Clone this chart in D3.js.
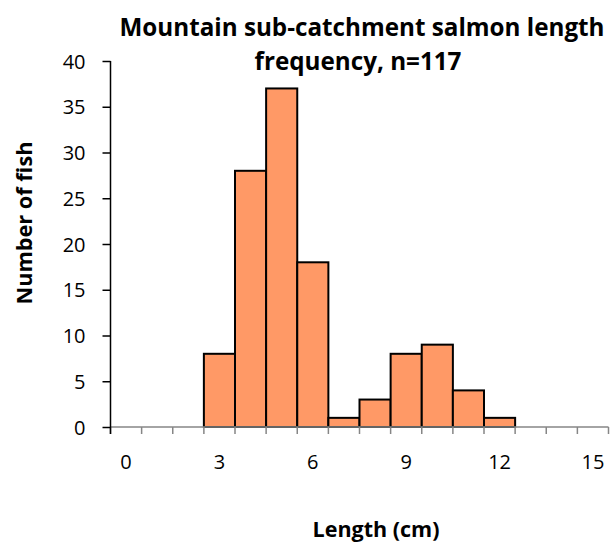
<!DOCTYPE html>
<html>
<head>
<meta charset="utf-8">
<script src="https://cdn.jsdelivr.net/npm/d3@7"></script>
<style>
  html, body { margin: 0; padding: 0; background: #fff; }
  svg { display: block; }
</style>
</head>
<body>
<svg id="chart" width="611" height="542"></svg>
<script>
const categories = ["0","1","2","3","4","5","6","7","8","9","10","11","12","13","14","15"];
const counts = [0,0,0,8,28,37,18,1,3,8,9,4,1,0,0,0];
const xTickLabels = ["0","3","6","9","12","15"];
const yTicks = [0,5,10,15,20,25,30,35,40];
const titleLines = ["Mountain sub-catchment salmon length", "frequency, n=117"];
const xTitle = "Length (cm)";
const yTitle = "Number of fish";

const font = "'Open Sans', Lato, sans-serif";
const svg = d3.select("#chart");
const m = {left: 110.5, right: 608.5, top: 61, bottom: 427};

const x = d3.scaleBand().domain(categories).range([m.left, m.right]).padding(0);
const y = d3.scaleLinear().domain([0, 40]).range([m.bottom, m.top]);

// fit a text element's font size to a target width
function fit(sel, target) {
  const node = sel.node();
  const fs = parseFloat(sel.attr("font-size"));
  const w = node.getComputedTextLength();
  sel.attr("font-size", (fs * target / w).toFixed(2));
}

// bars
svg.append("g").selectAll("rect")
  .data(categories.map((c, i) => ({c, v: counts[i]})).filter(d => d.v > 0))
  .join("rect")
  .attr("x", d => x(d.c))
  .attr("y", d => y(d.v))
  .attr("width", x.bandwidth())
  .attr("height", d => y(0) - y(d.v))
  .attr("fill", "#FF9966")
  .attr("stroke", "#000")
  .attr("stroke-width", 2);

// x axis
const xAxis = svg.append("g").attr("transform", `translate(0,${m.bottom})`);
xAxis.append("line").attr("x1", m.left).attr("x2", m.right)
  .attr("stroke", "#868686").attr("stroke-width", 1.5);
const boundaries = categories.map(c => x(c)).concat([m.right]);
xAxis.selectAll("line.tick").data(boundaries).join("line")
  .attr("class", "tick")
  .attr("x1", d => d).attr("x2", d => d).attr("y1", 0).attr("y2", 7)
  .attr("stroke", "#868686").attr("stroke-width", 1.5);
xAxis.selectAll("text").data(xTickLabels).join("text")
  .attr("x", d => x(d) + x.bandwidth() / 2)
  .attr("y", 42)
  .attr("text-anchor", "middle")
  .attr("font-family", font).attr("font-size", 20)
  .attr("fill", "#000")
  .text(d => d);

// y axis
const yAxis = svg.append("g").attr("transform", `translate(${m.left},0)`)
  .call(d3.axisLeft(y).tickValues(yTicks).tickSize(8).tickPadding(17));
yAxis.select(".domain").remove();
yAxis.append("line").attr("y1", m.top).attr("y2", m.bottom + 7)
  .attr("stroke", "#000").attr("stroke-width", 1.5);
yAxis.selectAll(".tick line").attr("stroke", "#000").attr("stroke-width", 1.5);
yAxis.selectAll(".tick text").attr("font-family", font).attr("font-size", 20)
  .attr("fill", "#000").attr("dy", "0.35em");

// title
const cx = 362;
const t1 = svg.append("text")
  .attr("x", cx).attr("y", 36)
  .attr("text-anchor", "middle")
  .attr("font-family", font).attr("font-weight", "bold").attr("font-size", 22)
  .text(titleLines[0]);
fit(t1, 485);
const t2 = svg.append("text")
  .attr("x", cx - 4).attr("y", 70)
  .attr("text-anchor", "middle")
  .attr("font-family", font).attr("font-weight", "bold")
  .attr("font-size", t1.attr("font-size"))
  .text(titleLines[1]);

// axis titles
const xt = svg.append("text")
  .attr("x", 376).attr("y", 537)
  .attr("text-anchor", "middle")
  .attr("font-family", font).attr("font-weight", "bold").attr("font-size", 20)
  .text(xTitle);
fit(xt, 127);

const yt = svg.append("text")
  .attr("transform", "translate(32,223) rotate(-90)")
  .attr("text-anchor", "middle")
  .attr("font-family", font).attr("font-weight", "bold").attr("font-size", 20)
  .text(yTitle);
fit(yt, 163);
</script>
</body>
</html>
